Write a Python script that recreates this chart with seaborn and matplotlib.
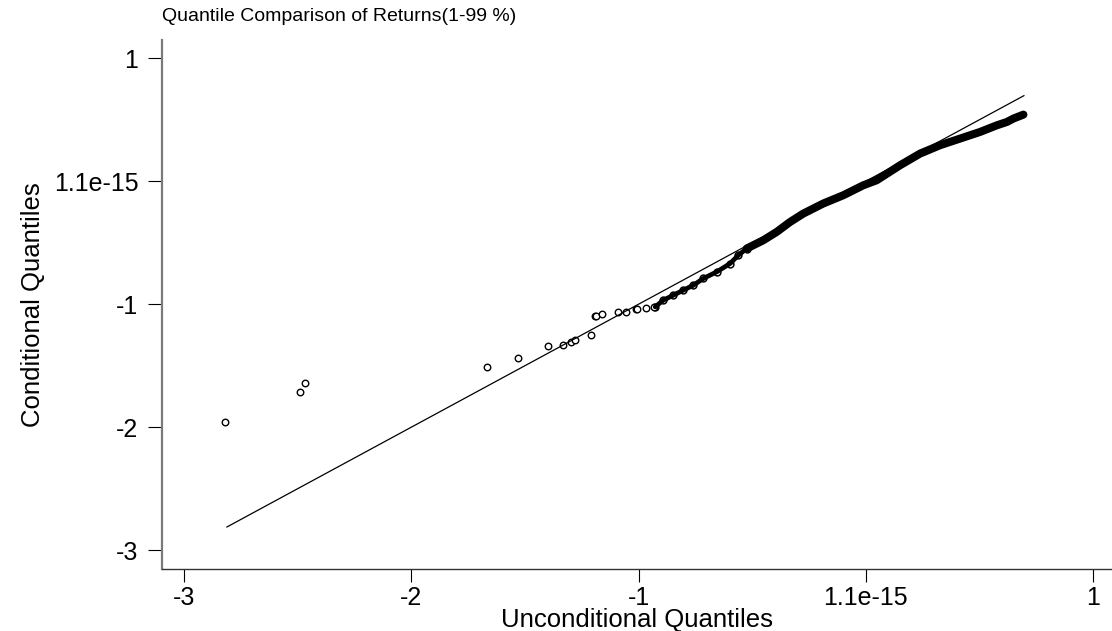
import matplotlib
matplotlib.use("Agg")
import matplotlib.pyplot as plt
import seaborn as sns
import pandas as pd

# ---- data ----
tick_values = [-3, -2, -1, 0, 1]
tick_labels = ["-3", "-2", "-1", "1.1e-15", "1"]

sparse_x = [-2.820, -2.489, -2.470, -1.667, -1.529, -1.400, -1.334, -1.296, -1.278,
            -1.210, -1.193, -1.187, -1.161, -1.090, -1.054, -1.011, -1.005, -0.968, -0.932]
sparse_y = [-1.957, -1.715, -1.640, -1.510, -1.439, -1.344, -1.328, -1.309, -1.293,
            -1.250, -1.098, -1.095, -1.076, -1.067, -1.063, -1.043, -1.041, -1.027, -1.022]

chain_x = [-0.927, -0.891, -0.847, -0.803, -0.759, -0.715, -0.656, -0.597, -0.561, -0.524]
chain_y = [-1.022, -0.967, -0.927, -0.886, -0.846, -0.791, -0.737, -0.669, -0.602, -0.547]

dense_x = [-0.524, -0.451, -0.392, -0.333, -0.275, -0.187, -0.099, -0.011, 0.048,
           0.151, 0.239, 0.327, 0.415, 0.503, 0.577, 0.621, 0.650, 0.694]
dense_y = [-0.547, -0.480, -0.412, -0.331, -0.263, -0.181, -0.114, -0.033, 0.008,
           0.130, 0.225, 0.293, 0.347, 0.401, 0.455, 0.482, 0.510, 0.542]

ref_x = [-2.813, 0.697]
ref_y = [-2.813, 0.697]

sns.set_style("ticks")
plt.rcParams["font.family"] = ["Liberation Sans", "DejaVu Sans"]
plt.rcParams["text.color"] = "black"
plt.rcParams["axes.labelcolor"] = "black"
plt.rcParams["xtick.color"] = "black"
plt.rcParams["ytick.color"] = "black"

fig = plt.figure(figsize=(11.12, 6.31), dpi=100)
ax = fig.add_axes([162 / 1112, 1 - 569 / 631, (1112 - 162) / 1112, (569 - 40) / 631])

sns.lineplot(x=ref_x, y=ref_y, ax=ax, color="black", linewidth=0.9)
sns.lineplot(x=chain_x, y=chain_y, ax=ax, color="black", linewidth=3.4,
             sort=False, solid_capstyle="round")
sns.lineplot(x=dense_x, y=dense_y, ax=ax, color="black", linewidth=5.8,
             sort=False, solid_capstyle="round")
sns.scatterplot(x=chain_x, y=chain_y, ax=ax, marker="o", s=24,
                facecolor="white", edgecolor="black", linewidth=1.1)
sns.scatterplot(x=sparse_x, y=sparse_y, ax=ax, marker="o", s=22,
                facecolor="white", edgecolor="black", linewidth=1.0)

ax.set_xlim(-3.098, 1.084)
ax.set_ylim(-3.154, 1.149)
ax.set_xticks(tick_values)
ax.set_xticklabels(tick_labels)
ax.set_yticks(tick_values)
ax.set_yticklabels(tick_labels)

for s in ["top", "right"]:
    ax.spines[s].set_visible(False)
ax.spines["left"].set_color("#7a7a7a")
ax.spines["left"].set_linewidth(1.6)
ax.spines["bottom"].set_color("#333333")
ax.spines["bottom"].set_linewidth(1.0)

ax.tick_params(axis="x", length=9, width=0.8, colors="black", pad=3, labelsize=18)
ax.tick_params(axis="y", length=10, width=0.8, colors="black", pad=7, labelsize=18)

ax.set_xlabel("Unconditional Quantiles", fontsize=18.5, labelpad=-1, color="black")
ax.set_ylabel("Conditional Quantiles", fontsize=18.5, labelpad=6, color="black")
ax.set_title("Quantile Comparison of Returns(1-99 %)", loc="left", fontsize=14,
             pad=14, color="black")

fig.savefig("out.png", dpi=100)
